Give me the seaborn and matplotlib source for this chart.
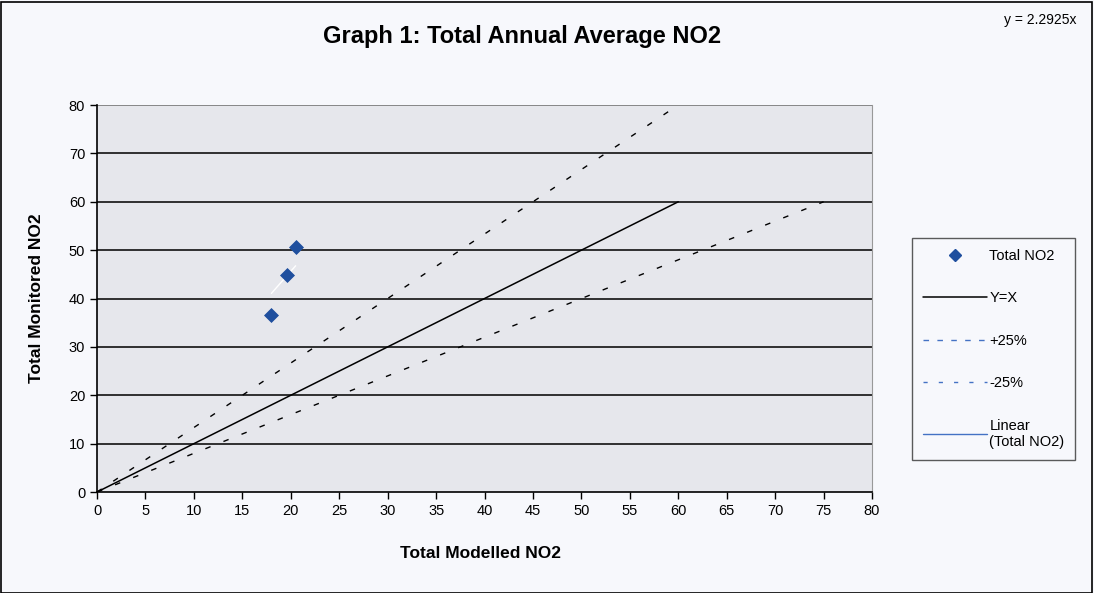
import numpy as np
import pandas as pd
import seaborn as sns
import matplotlib.pyplot as plt
from matplotlib.lines import Line2D
from matplotlib.patches import Rectangle

# measured sites
modelled = [18.0, 19.6, 20.5]
monitored = [36.6, 44.8, 50.6]

# reference lines (monitored values, modelled derived by +/-25%)
ref_y = [0, 5, 10, 15, 20, 25, 30, 35, 40, 45, 50, 55, 60]
plus_y = [0, 5, 10, 15, 20, 25, 30, 35, 40, 45, 50, 55, 60, 65, 70, 75, 80]
minus_y = [0, 5, 10, 15, 20, 25, 30, 35, 40, 45, 50, 55, 60]

slope_label = "y = 2.2925x"
ticks = list(range(0, 81, 10))
xticks = list(range(0, 81, 5))

sns.set_style("white", {"axes.facecolor": "#E6E7EC"})
plt.rcParams['font.family'] = ['Liberation Sans', 'DejaVu Sans']
plt.rcParams['text.color'] = 'black'
plt.rcParams['axes.labelcolor'] = 'black'
plt.rcParams['xtick.color'] = 'black'
plt.rcParams['ytick.color'] = 'black'

fig = plt.figure(figsize=(10.94, 5.93), dpi=100, facecolor="#F7F8FC")
ax = fig.add_axes([0.0887, 0.1703, 0.7084, 0.6526])

pts = pd.DataFrame({"x": modelled, "y": monitored})
yx = pd.DataFrame({"x": ref_y, "y": ref_y})
up = pd.DataFrame({"x": [v * 0.75 for v in plus_y], "y": plus_y})
lo = pd.DataFrame({"x": [v * 1.25 for v in minus_y], "y": minus_y})

for t in ticks[1:]:
    ax.axhline(t, color="#111111" if t < 80 else "#777777", lw=1.2, zorder=1)

sns.lineplot(data=yx, x="x", y="y", ax=ax, color="black", lw=1.1,
             sort=False, estimator=None, zorder=3)
sns.lineplot(data=up, x="x", y="y", ax=ax, color="black", lw=1.0,
             sort=False, estimator=None, zorder=3).lines[-1].set_dashes([4, 10])
sns.lineplot(data=lo, x="x", y="y", ax=ax, color="black", lw=1.0,
             sort=False, estimator=None, zorder=3).lines[-1].set_dashes([4, 10])

# linear trend through origin
k = np.sum(np.array(modelled) * np.array(monitored)) / np.sum(np.array(modelled) ** 2)
tx = np.array([min(modelled), max(modelled)])
ax.plot(tx, k * tx, color="white", lw=1.0, zorder=4)

sns.scatterplot(data=pts, x="x", y="y", ax=ax, marker="D", s=50,
                color="#1F4F9E", edgecolor="#1F4F9E", zorder=5)

ax.set_xlim(0, 80)
ax.set_ylim(0, 80)
ax.set_xticks(xticks)
ax.set_yticks(ticks)
ax.tick_params(axis="both", labelsize=10.5, length=5, width=1, color="black",
               direction="out", bottom=True, left=True)
for s in ["left", "bottom"]:
    ax.spines[s].set_color("black")
    ax.spines[s].set_linewidth(1.2)
ax.spines["top"].set_visible(False)
ax.spines["right"].set_color("#999999")

ax.set_xlabel("Total Modelled NO2", fontsize=12.5, fontweight="bold")
ax.set_ylabel("Total Monitored NO2", fontsize=12.5, fontweight="bold", labelpad=18)
ax.xaxis.set_label_coords(0.495, -0.14)

fig.text(0.477, 0.938, "Graph 1: Total Annual Average NO2", ha="center",
         va="center", fontsize=17, fontweight="bold")
fig.text(0.951, 0.966, slope_label, ha="center", va="center", fontsize=10)

handles = [
    Line2D([], [], marker="D", color="#1F4F9E", ls="none", markersize=6),
    Line2D([], [], color="black", lw=1.1),
    Line2D([], [], color="#4472C4", lw=1.0, ls=(0, (4, 6))),
    Line2D([], [], color="#4472C4", lw=1.0, ls=(0, (3, 8))),
    Line2D([], [], color="#4472C4", lw=1.0),
]
labels = ["Total NO2", "Y=X", "+25%", "-25%", "Linear\n(Total NO2)"]
leg = fig.legend(handles, labels, loc="upper left", bbox_to_anchor=(0.8336, 0.5987),
                 frameon=True, fancybox=False, fontsize=10.5, handlelength=4.4,
                 handletextpad=0.15, labelspacing=1.95, borderpad=0.75,
                 borderaxespad=0, facecolor="#F7F8FC", edgecolor="#333333")
leg.get_frame().set_linewidth(1.0)

fig.add_artist(Rectangle((0.001, 0.0), 0.997, 0.997, transform=fig.transFigure,
                         fill=False, edgecolor="black", lw=1.2))

fig.savefig("out.png", dpi=100, facecolor=fig.get_facecolor())
